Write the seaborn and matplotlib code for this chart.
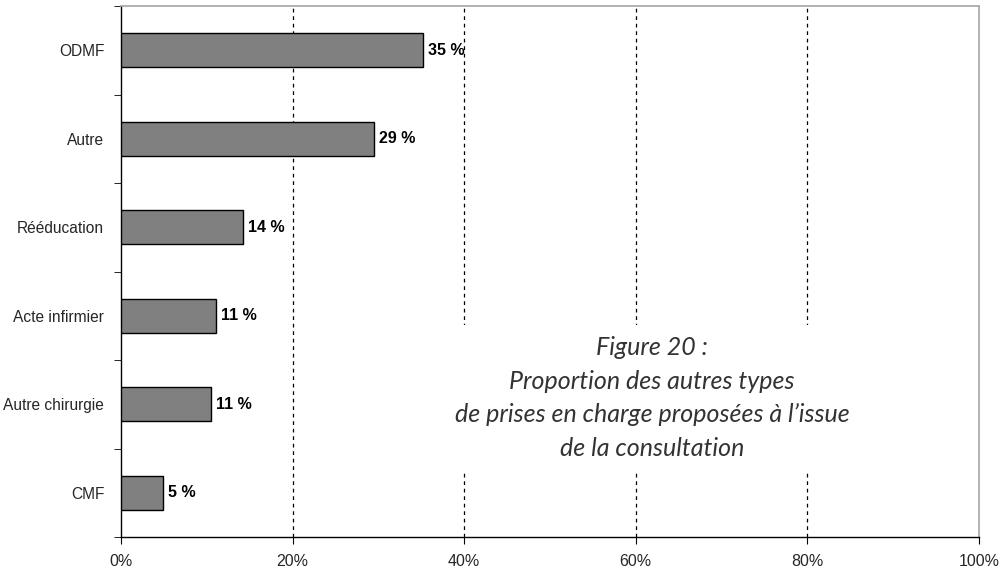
import pandas as pd
import matplotlib.pyplot as plt
import seaborn as sns
import numpy as np
from matplotlib.ticker import FixedLocator

sns.set_style('white')
plt.rcParams['font.family'] = ['Liberation Sans', 'DejaVu Sans']

categories = ['ODMF', 'Autre', 'Rééducation', 'Acte infirmier', 'Autre chirurgie', 'CMF']
values = [35.2, 29.5, 14.2, 11.1, 10.5, 4.9]
labels = ['35 %', '29 %', '14 %', '11 %', '11 %', '5 %']
x_ticks = [0, 20, 40, 60, 80, 100]

df = pd.DataFrame({'cat': categories, 'pct': values})

fig = plt.figure(figsize=(10.08, 5.71), dpi=100)
ax = fig.add_axes([121 / 1008, 1 - 537 / 571, (979 - 121) / 1008, (537 - 6) / 571])

sns.barplot(data=df, x='pct', y='cat', orient='h', color='#808080',
            saturation=1, edgecolor='black', linewidth=1, width=0.38, ax=ax, zorder=3)

for i, (v, lab) in enumerate(zip(values, labels)):
    ax.text(v + 0.6, i, lab, va='center', ha='left', fontsize=11.5,
            fontweight='bold', color='black', zorder=4)

ax.set_xlim(0, 100)
ax.set_ylim(len(categories) - 0.5, -0.5)
ax.set_xticks(x_ticks)
ax.set_xticklabels([f'{t}%' for t in x_ticks], fontsize=11.5)
ax.set_xlabel('')
ax.set_ylabel('')
ax.tick_params(axis='y', which='major', length=0, labelsize=11.2, pad=12)
ax.yaxis.set_minor_locator(FixedLocator(np.arange(-0.5, len(categories), 1)))
ax.tick_params(axis='y', which='minor', length=5, direction='out', color='black', left=True)
ax.tick_params(axis='x', which='major', length=5, direction='out', color='black', bottom=True, pad=7)

for t in [20, 40, 60, 80]:
    ax.axvline(t, color='black', linestyle=(0, (3, 3)), linewidth=0.9, zorder=1)

for side in ['left', 'bottom']:
    ax.spines[side].set_color('black')
    ax.spines[side].set_linewidth(1)
for side in ['top', 'right']:
    ax.spines[side].set_color('#a6a6a6')
    ax.spines[side].set_linewidth(1.2)

ax.text(0.619, 0.262,
        "Figure 20 :\nProportion des autres types\nde prises en charge proposées à l’issue\nde la consultation",
        transform=ax.transAxes, ha='center', va='center', fontsize=18,
        fontstyle='italic', fontweight='normal', family=['Lato', 'DejaVu Sans'],
        color='#333333', linespacing=1.55, zorder=5,
        bbox=dict(facecolor='white', edgecolor='none', pad=8))

fig.savefig('out.png', dpi=100)
plt.close(fig)
